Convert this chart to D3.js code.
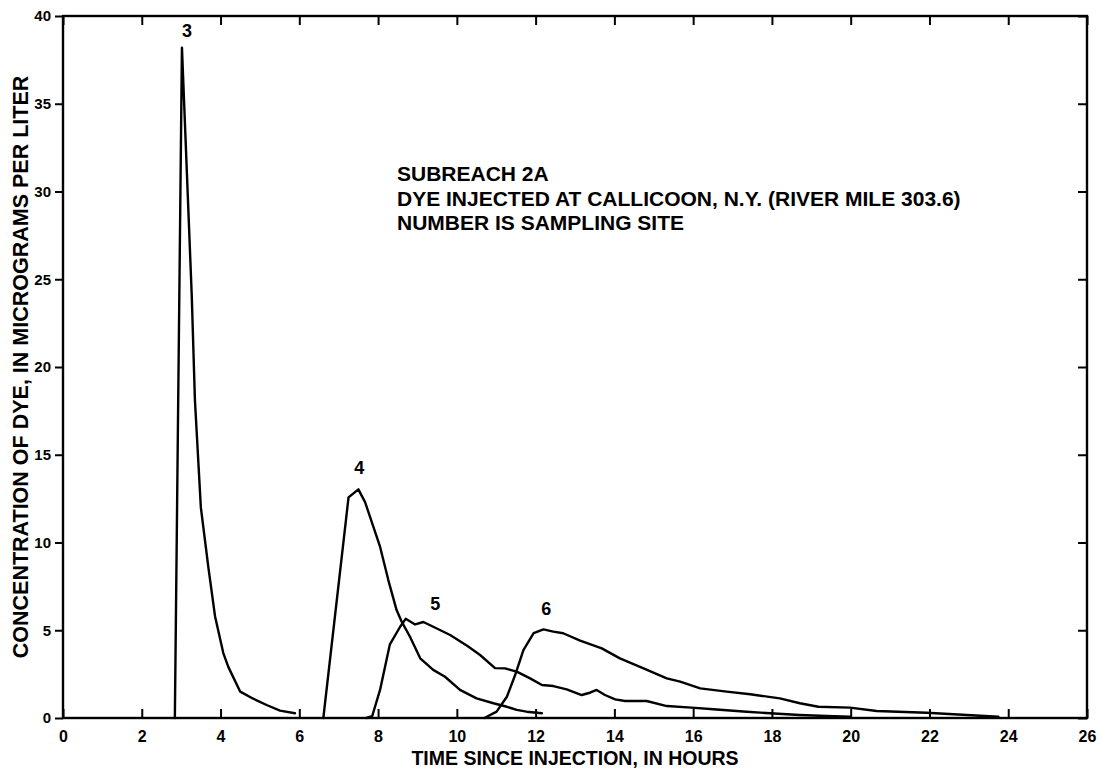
<!DOCTYPE html>
<html>
<head>
<meta charset="utf-8">
<script src="https://cdn.jsdelivr.net/npm/d3@7"></script>
<style>
  body { margin: 0; background: #fff; }
  svg { display: block; background: #fff; }
  text { font-family: "Liberation Sans", Arial, Helvetica, sans-serif; font-weight: bold; fill: #000; }
</style>
</head>
<body>
<svg id="chart" width="1106" height="777"></svg>
<script>
// Dye concentration (micrograms per liter) against time since injection (hours), by sampling site
const site3Time = [2.84, 3.02, 3.27, 3.35, 3.5, 3.69, 3.86, 4.07, 4.2, 4.5, 4.83, 5.17, 5.51, 5.89];
const site3Conc = [0, 38.2, 24.0, 18.1, 12.0, 8.6, 5.8, 3.7, 2.9, 1.5, 1.1, 0.74, 0.42, 0.27];

const site4Time = [6.61, 7.25, 7.5, 7.67, 8.05, 8.26, 8.47, 8.6, 8.81, 9.07, 9.4, 9.7, 10.08, 10.5, 10.93, 11.27, 11.52, 11.77, 12.16];
const site4Conc = [0, 12.57, 13.03, 12.3, 9.76, 7.86, 6.15, 5.49, 4.63, 3.4, 2.74, 2.35, 1.6, 1.12, 0.84, 0.64, 0.46, 0.36, 0.27];

const site5Time = [7.7, 7.85, 8.05, 8.3, 8.56, 8.7, 8.94, 9.15, 9.4, 9.83, 10.27, 10.59, 10.97, 11.22, 11.52, 11.86, 12.16, 12.45, 12.79, 13.17, 13.38, 13.55, 13.76, 14.02, 14.27, 14.82, 15.33, 15.96, 16.51, 17.36, 17.95, 18.7, 19.39, 19.98];
const site5Conc = [0, 0.1, 1.6, 4.2, 5.2, 5.65, 5.33, 5.47, 5.2, 4.73, 4.1, 3.59, 2.84, 2.83, 2.64, 2.26, 1.88, 1.82, 1.63, 1.31, 1.44, 1.6, 1.31, 1.06, 0.97, 0.97, 0.68, 0.59, 0.5, 0.36, 0.27, 0.17, 0.11, 0.07];

const site6Time = [10.7, 11.01, 11.27, 11.48, 11.69, 11.95, 12.2, 12.45, 12.7, 13.13, 13.68, 14.14, 14.74, 15.33, 15.67, 16.18, 16.85, 17.45, 18.2, 18.71, 19.18, 19.98, 20.66, 21.93, 22.95, 23.75];
const site6Conc = [0, 0.36, 1.21, 2.45, 3.87, 4.83, 5.05, 4.92, 4.83, 4.41, 3.97, 3.4, 2.83, 2.26, 2.07, 1.69, 1.5, 1.35, 1.12, 0.84, 0.64, 0.59, 0.4, 0.3, 0.17, 0.07];

const siteNames = ["3", "4", "5", "6"];
// where each site number is written (hours, micrograms per liter)
const siteLabelTime = [3.15, 7.52, 9.45, 12.27];
const siteLabelConc = [39.2, 14.3, 6.5, 6.25];

const xTickValues = [0, 2, 4, 6, 8, 10, 12, 14, 16, 18, 20, 22, 24, 26];
const yTickValues = [0, 5, 10, 15, 20, 25, 30, 35, 40];

const noteLines = [
  "SUBREACH 2A",
  "DYE INJECTED AT CALLICOON, N.Y. (RIVER MILE 303.6)",
  "NUMBER IS SAMPLING SITE"
];
const xTitle = "TIME SINCE INJECTION, IN HOURS";
const yTitle = "CONCENTRATION OF DYE, IN MICROGRAMS PER LITER";

const seriesTime = [site3Time, site4Time, site5Time, site6Time];
const seriesConc = [site3Conc, site4Conc, site5Conc, site6Conc];

// ---- layout ----
const plot = { left: 63, top: 16, right: 1087, bottom: 718 };
const svg = d3.select("#chart");

const x = d3.scaleLinear().domain([0, 26]).range([plot.left, plot.right]);
const y = d3.scaleLinear().domain([0, 40]).range([plot.bottom, plot.top]);

function styleAxis(g, fontSize) {
  g.select(".domain").remove();
  g.selectAll(".tick line").attr("stroke", "#000").attr("stroke-width", 2);
  g.selectAll(".tick text")
    .attr("font-family", null)
    .style("font-size", fontSize + "px")
    .style("font-weight", "bold");
}

// left axis: outward ticks with labels
svg.append("g")
  .attr("transform", `translate(${plot.left},0)`)
  .call(d3.axisLeft(y).tickValues(yTickValues).tickSize(8).tickPadding(4))
  .call(g => styleAxis(g, 15));

// bottom axis: inward ticks, labels below
svg.append("g")
  .attr("transform", `translate(0,${plot.bottom})`)
  .call(d3.axisBottom(x).tickValues(xTickValues).tickSizeInner(-9).tickSizeOuter(0).tickPadding(13))
  .call(g => styleAxis(g, 16));

// top and right: inward ticks only
svg.append("g")
  .attr("transform", `translate(0,${plot.top})`)
  .call(d3.axisTop(x).tickValues(xTickValues).tickSize(-9).tickFormat(""))
  .call(g => styleAxis(g, 14));

svg.append("g")
  .attr("transform", `translate(${plot.right},0)`)
  .call(d3.axisRight(y).tickValues(yTickValues).tickSize(-9).tickFormat(""))
  .call(g => styleAxis(g, 14));

// frame
svg.append("rect")
  .attr("x", plot.left).attr("y", plot.top)
  .attr("width", plot.right - plot.left).attr("height", plot.bottom - plot.top)
  .attr("fill", "none").attr("stroke", "#000").attr("stroke-width", 2.4);

// concentration curves
const line = d3.line().x(d => x(d.t)).y(d => y(d.c));
const series = siteNames.map((name, i) => ({
  name,
  points: seriesTime[i].map((t, j) => ({ t, c: seriesConc[i][j] }))
}));

svg.append("g")
  .selectAll("path")
  .data(series)
  .join("path")
  .attr("d", d => line(d.points))
  .attr("fill", "none")
  .attr("stroke", "#000")
  .attr("stroke-width", 2.4)
  .attr("stroke-linejoin", "round")
  .attr("stroke-linecap", "round");

// site numbers
svg.append("g")
  .selectAll("text")
  .data(siteNames)
  .join("text")
  .attr("x", (d, i) => x(siteLabelTime[i]))
  .attr("y", (d, i) => y(siteLabelConc[i]))
  .attr("dy", "0.36em")
  .attr("text-anchor", "middle")
  .style("font-size", "18px")
  .text(d => d);

// explanatory note
svg.append("g")
  .selectAll("text")
  .data(noteLines)
  .join("text")
  .attr("x", 397)
  .attr("y", (d, i) => 181 + i * 24.5)
  .style("font-size", "21px")
  .text(d => d);

// axis titles
svg.append("text")
  .attr("x", 575)
  .attr("y", 765)
  .attr("text-anchor", "middle")
  .style("font-size", "19.5px")
  .text(xTitle);

svg.append("text")
  .attr("transform", `translate(28,${(plot.top + plot.bottom) / 2}) rotate(-90)`)
  .attr("text-anchor", "middle")
  .style("font-size", "21.5px")
  .text(yTitle);
</script>
</body>
</html>
